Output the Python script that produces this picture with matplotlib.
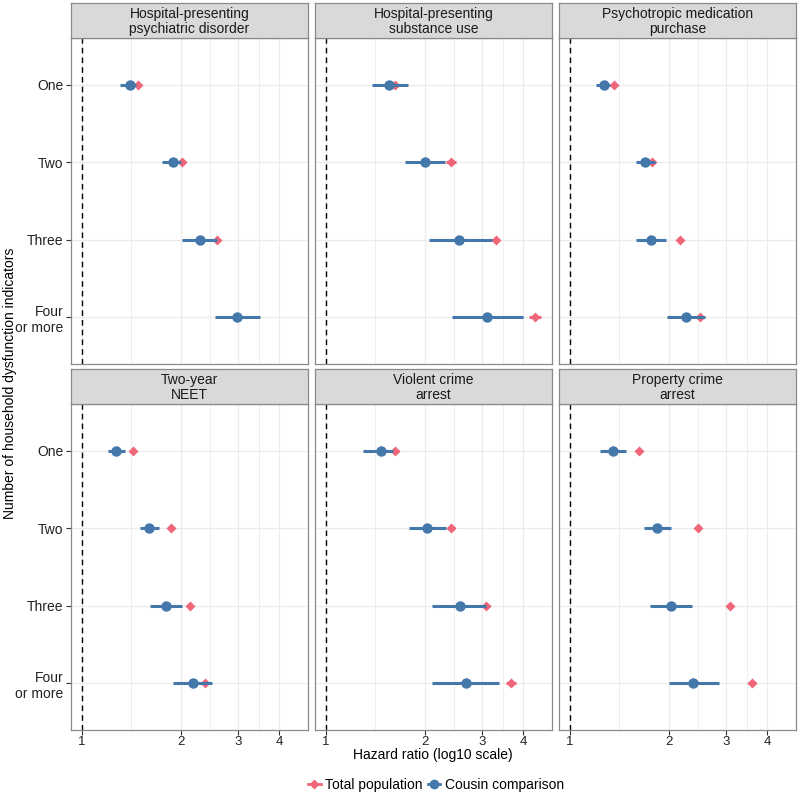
# -*- coding: utf-8 -*-
"""
Household dysfunction indicators vs. hazard ratios, total population vs cousin comparison.
"""

import numpy as np
import matplotlib
matplotlib.use("Agg")
import matplotlib.pyplot as plt
from matplotlib.lines import Line2D
from matplotlib.ticker import FixedLocator, NullFormatter

# facet titles and indicator levels
outcomes = ["Hospital-presenting\npsychiatric disorder",
            "Hospital-presenting\nsubstance use",
            "Psychotropic medication\npurchase",
            "Two-year\nNEET",
            "Violent crime\narrest",
            "Property crime\narrest"]
levels = ["One", "Two", "Three", "Four\nor more"]

# cousin comparison estimates (HR, lower, upper)
cousin_hr = [[1.40, 1.89, 2.29, 2.97],
             [1.56, 2.00, 2.55, 3.10],
             [1.27, 1.69, 1.77, 2.26],
             [1.27, 1.60, 1.80, 2.18],
             [1.47, 2.03, 2.56, 2.67],
             [1.35, 1.84, 2.04, 2.38]]
cousin_lo = [[1.31, 1.75, 2.02, 2.54],
             [1.38, 1.74, 2.06, 2.42],
             [1.20, 1.59, 1.59, 1.98],
             [1.20, 1.50, 1.61, 1.90],
             [1.30, 1.79, 2.10, 2.11],
             [1.24, 1.68, 1.76, 2.01]]
cousin_hi = [[1.46, 2.00, 2.59, 3.48],
             [1.78, 2.31, 3.20, 3.98],
             [1.33, 1.82, 1.97, 2.59],
             [1.35, 1.72, 2.02, 2.49],
             [1.60, 2.32, 3.08, 3.37],
             [1.48, 2.04, 2.36, 2.84]]

# total population estimates (HR, lower, upper)
total_hr = [[1.48, 2.02, 2.58, 2.97],
            [1.63, 2.41, 3.29, 4.33],
            [1.36, 1.78, 2.17, 2.50],
            [1.43, 1.87, 2.14, 2.37],
            [1.63, 2.41, 3.07, 3.66],
            [1.63, 2.46, 3.08, 3.59]]
total_lo = [[1.45, 1.98, 2.52, 2.85],
            [1.57, 2.33, 3.20, 4.16],
            [1.34, 1.75, 2.13, 2.44],
            [1.41, 1.84, 2.10, 2.30],
            [1.59, 2.35, 2.97, 3.53],
            [1.60, 2.42, 3.02, 3.50]]
total_hi = [[1.51, 2.06, 2.64, 3.10],
            [1.69, 2.49, 3.38, 4.53],
            [1.38, 1.81, 2.21, 2.56],
            [1.45, 1.90, 2.18, 2.44],
            [1.67, 2.47, 3.17, 3.80],
            [1.66, 2.50, 3.14, 3.68]]

x_breaks = [1, 2, 3, 4]

RED = "#EE6677"
BLUE = "#4477AA"
BORDER = "#8a8a8a"
GRID = "#EBEBEB"
TEXT = "#222222"

plt.rcParams['font.family'] = ['Liberation Sans', 'DejaVu Sans']

W, H = 800, 795


def px_box(x0, y0, x1, y1):
    return [x0 / W, 1 - y1 / H, (x1 - x0) / W, (y1 - y0) / H]


# x range like ggplot: data range (incl. reference line at 1) + 5% in log space
all_vals = np.concatenate([np.ravel(cousin_lo), np.ravel(cousin_hi),
                           np.ravel(total_lo), np.ravel(total_hi), [1.0]])
llo, lhi = np.log10(all_vals.min()), np.log10(all_vals.max())
pad = 0.05 * (lhi - llo)
xlim = (10 ** (llo - pad), 10 ** (lhi + pad))
# minor breaks halfway between majors in log space
lb = np.log10(x_breaks)
x_minor = list(10 ** ((lb[:-1] + lb[1:]) / 2))

cols = [(71, 308), (315, 552), (559, 796)]
rows = [(3, 38, 364), (369, 404, 730)]

fig = plt.figure(figsize=(8, 7.95), dpi=100)
ypos = np.arange(1, len(levels) + 1)

for k, title in enumerate(outcomes):
    r, c = divmod(k, 3)
    ax = fig.add_axes(px_box(cols[c][0], rows[r][1], cols[c][1], rows[r][2]))
    strip = fig.add_axes(px_box(cols[c][0], rows[r][0], cols[c][1], rows[r][1]))

    ax.set_xscale('log')
    ax.set_xlim(*xlim)
    ax.set_ylim(4.6, 0.4)
    ax.xaxis.set_major_locator(FixedLocator(x_breaks))
    ax.xaxis.set_minor_locator(FixedLocator(x_minor))
    ax.xaxis.set_minor_formatter(NullFormatter())
    ax.set_xticks(x_breaks, [str(b) for b in x_breaks] if r == 1 else [])
    ax.set_yticks(ypos, levels if c == 0 else [])
    ax.tick_params(which='minor', length=0)
    ax.tick_params(which='major', color='#333333', length=3.5, width=0.8,
                   labelcolor=TEXT, pad=2)
    ax.tick_params(axis='x', bottom=(r == 1), labelsize=9.5, pad=1)
    ax.tick_params(axis='y', left=(c == 0), labelsize=10)
    for lab in ax.get_yticklabels():
        lab.set_multialignment('right')

    ax.set_axisbelow(True)
    ax.grid(which='major', color=GRID, lw=0.9)
    ax.grid(which='minor', axis='x', color=GRID, lw=0.6)
    for sp in ax.spines.values():
        sp.set_color(BORDER)
        sp.set_linewidth(0.9)

    ax.axvline(1, color='black', ls=(0, (4, 3)), lw=1.0, zorder=1)

    # total population
    ax.hlines(ypos, total_lo[k], total_hi[k], color=RED, lw=2.2, zorder=2)
    ax.plot(total_hr[k], ypos, 'D', color=RED, ms=5.5, mec='none', zorder=3)
    # cousin comparison
    ax.hlines(ypos, cousin_lo[k], cousin_hi[k], color=BLUE, lw=2.2, zorder=4)
    ax.plot(cousin_hr[k], ypos, 'o', color=BLUE, ms=7.5, mec='none', zorder=5)

    strip.set_facecolor('#D9D9D9')
    strip.set_xticks([])
    strip.set_yticks([])
    for sp in strip.spines.values():
        sp.set_color(BORDER)
        sp.set_linewidth(0.9)
    strip.text(0.5, 0.47, title, ha='center', va='center', fontsize=10,
               color='#1a1a1a', linespacing=1.05, transform=strip.transAxes)

fig.text(433 / W, 1 - 755 / H, "Hazard ratio (log10 scale)", ha='center',
         va='center', fontsize=10, color='black')
fig.text(10 / W, 1 - 383 / H, "Number of household dysfunction indicators",
         ha='center', va='center', rotation=90, fontsize=10, color='black')

handles = [Line2D([], [], color=RED, marker='D', ms=5.5, mec='none', lw=2),
           Line2D([], [], color=BLUE, marker='o', ms=7, mec='none', lw=2)]
fig.legend(handles, ["Total population", "Cousin comparison"], loc='center',
           bbox_to_anchor=(436 / W, 1 - 785 / H), ncol=2, frameon=False,
           fontsize=10, handlelength=0.9, handletextpad=0.3, columnspacing=0.4)

fig.savefig('out.png', dpi=100)
